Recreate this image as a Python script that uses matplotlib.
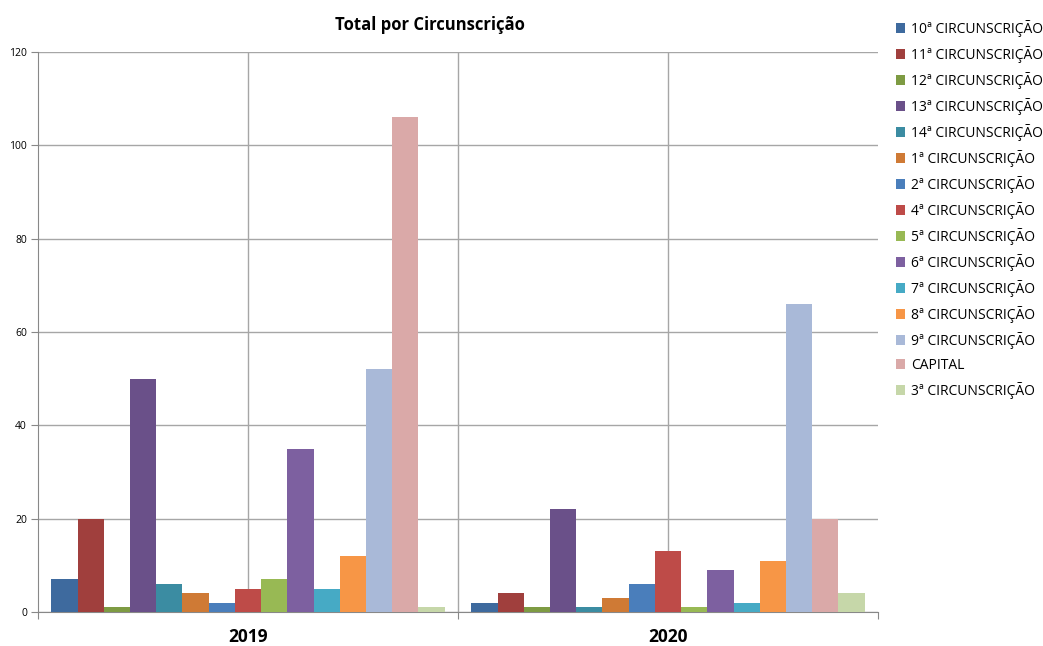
import matplotlib
matplotlib.use("Agg")
import matplotlib.pyplot as plt
from matplotlib.patches import Patch
import numpy as np

years = ["2019", "2020"]
series = ["10ª CIRCUNSCRIÇÃO", "11ª CIRCUNSCRIÇÃO", "12ª CIRCUNSCRIÇÃO", "13ª CIRCUNSCRIÇÃO",
          "14ª CIRCUNSCRIÇÃO", "1ª CIRCUNSCRIÇÃO", "2ª CIRCUNSCRIÇÃO", "4ª CIRCUNSCRIÇÃO",
          "5ª CIRCUNSCRIÇÃO", "6ª CIRCUNSCRIÇÃO", "7ª CIRCUNSCRIÇÃO", "8ª CIRCUNSCRIÇÃO",
          "9ª CIRCUNSCRIÇÃO", "CAPITAL", "3ª CIRCUNSCRIÇÃO"]
values_2019 = [7, 20, 1, 50, 6, 4, 2, 5, 7, 35, 5, 12, 52, 106, 1]
values_2020 = [2, 4, 1, 22, 1, 3, 6, 13, 1, 9, 2, 11, 66, 20, 4]
colors = ["#3E6A9E", "#A03F3D", "#7E9B43", "#6A5089", "#3B8CA2", "#CF7A35", "#4A7EBB",
          "#BE4B48", "#98B954", "#7D60A0", "#46AAC5", "#F79646", "#A9B9D8", "#DAA9A8", "#C6D7A9"]

plt.rcParams['font.family'] = ['Open Sans', 'DejaVu Sans']

fig = plt.figure(figsize=(10.43, 6.46), dpi=100)
ax = fig.add_axes([38/1043, 1-612/646, 840/1043, 560/646])

n = len(series)
group_w = 0.936
bw = group_w / n
x = np.arange(len(years))
for i, (s, c) in enumerate(zip(series, colors)):
    vals = [values_2019[i], values_2020[i]]
    ax.bar(x - group_w/2 + bw*(i+0.5), vals, width=bw, color=c, label=s, zorder=3,
           edgecolor='none')

ax.set_xlim(-0.5, 1.5)
ax.set_ylim(0, 120)
ax.set_yticks(range(0, 121, 20))
ax.yaxis.grid(True, color='#A6A6A6', linewidth=1, zorder=0)
for xv in [0, 0.5, 1]:
    ax.axvline(xv, color='#A6A6A6', linewidth=1, zorder=0)
ax.set_xticks([-0.5, 0.5, 1.5])
ax.set_xticklabels([])
ax.set_xticks(x, minor=True)
ax.set_xticklabels(years, minor=True, fontsize=12.5, fontweight='bold')
ax.tick_params(axis='x', which='minor', length=0, pad=11.5)
ax.tick_params(axis='x', which='major', length=5, color='#888888')
ax.tick_params(axis='y', length=5, color='#888888', labelsize=7.5, pad=3)
for sp in ['top', 'right']:
    ax.spines[sp].set_visible(False)
for sp in ['left', 'bottom']:
    ax.spines[sp].set_color('#888888')

fig.text(430/1043, 1-25/646, "Total por Circunscrição", ha='center', va='center',
         fontsize=12, fontweight='bold')

handles = [Patch(facecolor=c, label=s) for s, c in zip(series, colors)]
fig.legend(handles=handles, loc='upper left', bbox_to_anchor=(890/1043, 1-14/646),
           frameon=False, fontsize=10, handlelength=0.7, handleheight=0.7,
           handletextpad=0.4, labelspacing=0.65, borderaxespad=0)

fig.savefig("out.png", dpi=100)
